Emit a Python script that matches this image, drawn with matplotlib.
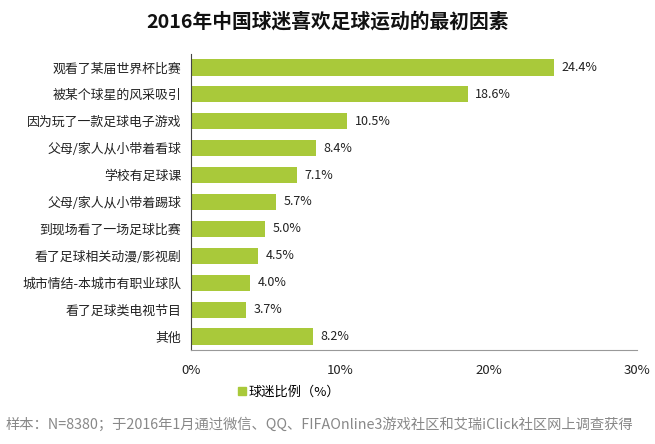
import matplotlib.pyplot as plt
from matplotlib.patches import Patch

plt.rcParams['font.family'] = ['Noto Sans CJK SC', 'DejaVu Sans']

categories = ['观看了某届世界杯比赛', '被某个球星的风采吸引', '因为玩了一款足球电子游戏',
              '父母/家人从小带着看球', '学校有足球课', '父母/家人从小带着踢球',
              '到现场看了一场足球比赛', '看了足球相关动漫/影视剧', '城市情结-本城市有职业球队',
              '看了足球类电视节目', '其他']
values = [24.4, 18.6, 10.5, 8.4, 7.1, 5.7, 5.0, 4.5, 4.0, 3.7, 8.2]
xticks = [0, 10, 20, 30]
bar_color = '#a9c93a'

fig = plt.figure(figsize=(6.55, 4.44), dpi=100)
ax = fig.add_axes([0.2916, 0.2117, 0.681, 0.6667])

y = list(range(len(categories)))
ax.barh(y, values, height=0.6, color=bar_color)
for yi, v in zip(y, values):
    ax.text(v + 0.5, yi, f'{v:.1f}%', va='center', ha='left', fontsize=9, color='#222222')

ax.set_ylim(len(categories) - 0.5, -0.5)
ax.set_xlim(0, 30)
ax.set_yticks(y)
ax.set_yticklabels(categories, fontsize=9.3, color='#222222')
ax.set_xticks(xticks)
ax.set_xticklabels([f'{t}%' for t in xticks], fontsize=9.5, color='#222222')
ax.tick_params(axis='both', length=0)
ax.tick_params(axis='x', pad=10)
ax.tick_params(axis='y', pad=7)

for s in ['top', 'right']:
    ax.spines[s].set_visible(False)
ax.spines['left'].set_color('#444444')
ax.spines['bottom'].set_color('#999999')

fig.text(0.5, 0.952, '2016年中国球迷喜欢足球运动的最初因素', ha='center', va='center',
         fontsize=14.2, fontweight='bold', color='#111111')

fig.legend(handles=[Patch(color=bar_color, label='球迷比例（%）')],
           loc='center left', bbox_to_anchor=(0.345, 0.117), frameon=False,
           fontsize=9.5, handlelength=0.6, handleheight=0.6, handletextpad=0.2)

fig.text(0.008, 0.043, '样本：N=8380；于2016年1月通过微信、QQ、FIFAOnline3游戏社区和艾瑞iClick社区网上调查获得',
         ha='left', va='center', fontsize=10.3, color='#888888')

fig.savefig('out.png', dpi=100)
